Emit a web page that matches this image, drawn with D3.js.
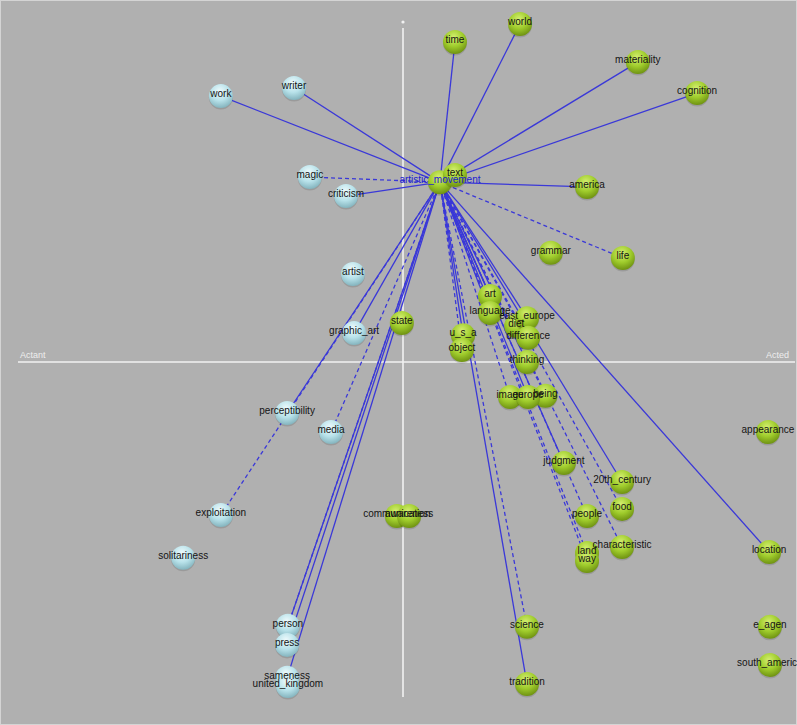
<!DOCTYPE html>
<html><head><meta charset="utf-8">
<script src="https://cdn.jsdelivr.net/npm/d3@7"></script>
<style>html,body{margin:0;padding:0;background:#b0b0b0;}svg{display:block;}</style>
</head><body>
<script>
// Node data (Actant -> Acted on x, arbitrary vertical score on y)
const nodeNames = ["artistic_movement","text","work","writer","magic","criticism","artist","graphic_art","perceptibility","media","exploitation","solitariness","person","press","sameness","united_kingdom",
 "time","world","materiality","cognition","america","grammar","life","state","art","language","diet","east_europe","difference","u_s_a","object","thinking","image","being","europe","appearance","judgment","20th_century","food","people","characteristic","land","way","communication","awareness","location","e_agen","south_america","science","tradition"];
const nodeX = [9.6,13.5,-47.3,-28.3,-24.2,-14.8,-13.0,-12.7,-30.1,-18.7,-47.3,-57.1,-29.9,-30.1,-30.1,-29.9,
 13.5,30.4,61.0,76.4,47.8,38.4,57.1,-0.3,22.6,22.6,29.4,32.2,32.5,15.6,15.3,32.2,27.8,37.0,32.5,94.8,41.8,56.9,56.9,47.8,56.9,47.8,47.8,-1.6,1.6,95.1,95.3,95.3,32.2,32.2];
const nodeY = [52.9,55.0,78.2,80.6,54.4,48.8,25.9,8.5,-15.0,-20.6,-45.0,-57.6,-77.6,-83.2,-92.9,-95.3,
 94.1,99.4,88.2,79.1,51.5,32.1,30.6,11.5,19.4,14.4,10.6,12.9,7.1,7.9,3.5,0,-10.3,-9.9,-10.3,-20.6,-29.7,-35.3,-43.2,-45.3,-54.4,-56.2,-58.5,-45.3,-45.3,-55.9,-77.9,-89.1,-77.9,-94.7];
const nodeGroup = ["hub","acted","actant","actant","actant","actant","actant","actant","actant","actant","actant","actant","actant","actant","actant","actant",
 "acted","acted","acted","acted","acted","acted","acted","acted","acted","acted","acted","acted","acted","acted","acted","acted","acted","acted","acted","acted","acted","acted","acted","acted","acted","acted","acted","acted","acted","acted","acted","acted","acted","acted"];
// Links from artistic_movement
const edgeTargets = ["text","time","world","materiality","cognition","america","work","writer","criticism","magic","life",
 "graphic_art","perceptibility","exploitation","media","person","person","press","sameness",
 "art","language","east_europe","difference","u_s_a","object","thinking","europe","being","image",
 "judgment","20th_century","food","people","characteristic","way","land","location","science","tradition"];
const edgeDashed = [false,false,false,false,false,false,false,false,false,true,true,
 false,false,true,true,false,true,false,false,
 false,false,false,true,false,true,false,false,true,true,
 false,false,true,true,true,true,true,false,true,false];
const axisLabels = ["Actant","Acted"];

const W=797,H=725;
const svg=d3.select("body").append("svg").attr("width",W).attr("height",H);
const x=d3.scaleLinear().domain([-100,100]).range([18,788]);
const y=d3.scaleLinear().domain([-100,100]).range([702,22]);

svg.append("rect").attr("x",0).attr("y",0).attr("width",W).attr("height",H).attr("fill","#b0b0b0");
svg.append("rect").attr("x",0.5).attr("y",0.5).attr("width",W-1).attr("height",H-1).attr("fill","none").attr("stroke","#d4d4d4");

const defs=svg.append("defs");
function grad(id,c0,c1,c2){
  const g=defs.append("radialGradient").attr("id",id).attr("cx","45%").attr("cy","30%").attr("r","70%");
  g.append("stop").attr("offset","0%").attr("stop-color",c0);
  g.append("stop").attr("offset","55%").attr("stop-color",c1);
  g.append("stop").attr("offset","100%").attr("stop-color",c2);
}
grad("gGreen","#d4ef70","#9fcc2c","#6f9212");
grad("gBlue","#eefafc","#b8e2ea","#84b4be");

// axes
svg.append("line").attr("x1",x(0)).attr("x2",x(0)).attr("y1",28).attr("y2",697).attr("stroke","#f2f2f2").attr("stroke-width",1.6);
svg.append("circle").attr("cx",x(0)).attr("cy",22).attr("r",1.6).attr("fill","#f2f2f2");
svg.append("line").attr("x1",18).attr("x2",795).attr("y1",y(0)).attr("y2",y(0)).attr("stroke","#f2f2f2").attr("stroke-width",1.6);
svg.append("text").attr("x",20).attr("y",y(0)-4).text(axisLabels[0]).attr("fill","#eeeeee").attr("font-family","Arial, Liberation Sans, sans-serif").attr("font-size",9);
svg.append("text").attr("x",789).attr("y",y(0)-4).attr("text-anchor","end").text(axisLabels[1]).attr("fill","#eeeeee").attr("font-family","Arial, Liberation Sans, sans-serif").attr("font-size",9);

const nodes=nodeNames.map((n,i)=>({name:n,x:nodeX[i],y:nodeY[i],g:nodeGroup[i]}));
const byName=new Map(nodes.map(d=>[d.name,d]));
const hub=byName.get("artistic_movement");
const edges=edgeTargets.map((t,i)=>({s:hub,t:byName.get(t),dashed:edgeDashed[i]}));

svg.append("g").selectAll("line").data(edges).join("line")
  .attr("x1",d=>x(d.s.x)).attr("y1",d=>y(d.s.y))
  .attr("x2",d=>x(d.t.x)).attr("y2",d=>y(d.t.y))
  .attr("stroke","#3a38d8").attr("stroke-width",1.3)
  .attr("stroke-dasharray",d=>d.dashed?"4,3":null);

const r=12;
const ng=svg.append("g").selectAll("g").data(nodes).join("g")
  .attr("transform",d=>`translate(${x(d.x)},${y(d.y)})`);
ng.append("circle").attr("r",r).attr("cy",1.5).attr("fill","rgba(0,0,0,0.12)");
ng.append("circle").attr("r",r).attr("fill",d=>d.g==="actant"?"url(#gBlue)":"url(#gGreen)");

svg.append("g").selectAll("text").data(nodes).join("text")
  .attr("x",d=>x(d.x)).attr("y",d=>y(d.y)+1)
  .attr("text-anchor","middle")
  .attr("font-family","Arial, Liberation Sans, sans-serif").attr("font-size",10)
  .attr("fill",d=>d.g==="hub"?"#2020d0":"#141414")
  .text(d=>d.name);
</script>
</body></html>
